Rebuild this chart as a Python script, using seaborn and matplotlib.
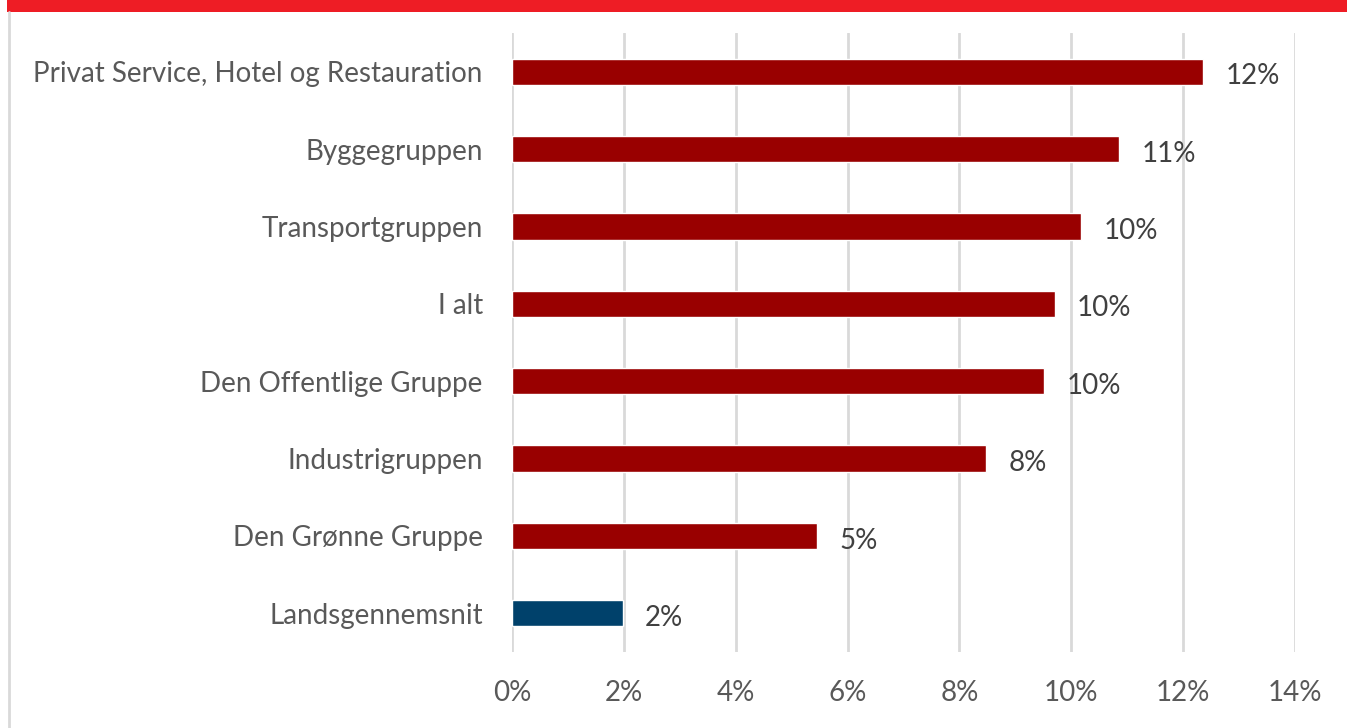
import matplotlib
matplotlib.use("Agg")
import matplotlib.pyplot as plt
import seaborn as sns
import pandas as pd
from matplotlib.patches import Rectangle
from matplotlib.lines import Line2D

categories = ["Privat Service, Hotel og Restauration", "Byggegruppen", "Transportgruppen",
              "I alt", "Den Offentlige Gruppe", "Industrigruppen", "Den Grønne Gruppe",
              "Landsgennemsnit"]
values = [12.36, 10.85, 10.18, 9.70, 9.52, 8.48, 5.45, 1.98]
value_labels = ["12%", "11%", "10%", "10%", "10%", "8%", "5%", "2%"]
groups = ["fag"] * 7 + ["land"]
xticks = [0, 2, 4, 6, 8, 10, 12, 14]
xtick_labels = ["0%", "2%", "4%", "6%", "8%", "10%", "12%", "14%"]

df = pd.DataFrame({"cat": categories, "val": values, "grp": groups})

sns.set_theme(style="white")
plt.rcParams["font.family"] = ["Lato", "DejaVu Sans"]

fig = plt.figure(figsize=(13.47, 7.28), dpi=100)
ax = fig.add_axes([0.3801, 0.1044, 0.9614 - 0.3801, 0.9547 - 0.1044])

sns.barplot(data=df, y="cat", x="val", hue="grp", orient="h", dodge=False,
            palette={"fag": "#990000", "land": "#00416B"}, width=0.34,
            legend=False, ax=ax, saturation=1)

ax.set_xlim(0, 14)
ax.set_ylim(7.5, -0.5)
ax.set_xticks(xticks)
ax.set_xticklabels(xtick_labels, fontsize=20, color="#595959")
ax.tick_params(axis="x", length=0, pad=20)
ax.tick_params(axis="y", length=0, pad=21, labelsize=20, labelcolor="#595959")
ax.set_xlabel("")
ax.set_ylabel("")
ax.grid(axis="x", color="#D9D9D9", linewidth=2)
ax.set_axisbelow(True)
for s in ax.spines.values():
    s.set_visible(False)

for i, (v, lab) in enumerate(zip(values, value_labels)):
    ax.text(v + 0.4, i + 0.06, lab, va="center", ha="left", fontsize=20, color="#404040")

# decorative frame: red top band and left grey border
fig.add_artist(Rectangle((7 / 1347, 1 - 12 / 728), 1 - 7 / 1347, 12 / 728,
                         transform=fig.transFigure, color="#EE1D25", linewidth=0))
fig.add_artist(Line2D([9 / 1347, 9 / 1347], [0, 1 - 12 / 728], transform=fig.transFigure,
                      color="#D9D9D9", linewidth=2))

fig.savefig("out.png", dpi=100)
